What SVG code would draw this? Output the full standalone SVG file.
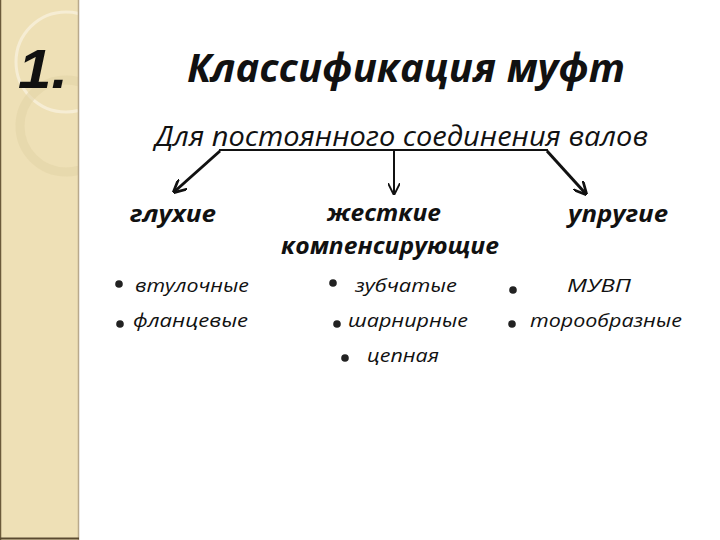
<svg xmlns="http://www.w3.org/2000/svg" width="720" height="540" viewBox="0 0 720 540">
<defs>
<style>
.t{font-family:"Open Sans","Noto Sans","Liberation Sans",sans-serif;font-style:italic;fill:#111}
.h{font-weight:bold;font-size:24px}
.b{font-size:19px}
.ln{stroke:#111;fill:none}
.dot{fill:#222}
</style>
<clipPath id="sc"><rect x="0" y="0" width="78" height="540"/></clipPath>
<marker id="ah" viewBox="0 0 10 10" refX="9" refY="5" markerWidth="4.5" markerHeight="4.5" orient="auto" markerUnits="strokeWidth">
<path d="M0,0 L10,5 L0,10" fill="none" stroke="#111" stroke-width="2"/>
</marker>
<marker id="ahm" viewBox="0 0 10 10" refX="9" refY="5" markerWidth="6" markerHeight="6" orient="auto" markerUnits="strokeWidth">
<path d="M0,0 L10,5 L0,10" fill="none" stroke="#111" stroke-width="1.6"/>
</marker>
</defs>
<rect width="720" height="540" fill="#fff"/>
<g id="strip">
<rect x="0" y="0" width="79" height="540" fill="#EEE0B6"/>
<g clip-path="url(#sc)">
<circle cx="66" cy="62" r="50" fill="none" stroke="#F6EDD4" stroke-width="3"/>
<circle cx="66" cy="126" r="46" fill="none" stroke="#E2D3A6" stroke-width="9" opacity="0.6"/>
</g>
<line x1="78.5" y1="0" x2="78.5" y2="540" stroke="#B8A98C" stroke-width="1.5"/>
<line x1="0.5" y1="0" x2="0.5" y2="540" stroke="#6B5A3A" stroke-width="1.5"/>
<line x1="0" y1="538.5" x2="79" y2="538.5" stroke="#5A4A30" stroke-width="2"/>
</g>
<g id="num"><text x="18" y="88" font-family="Liberation Sans,Arial,sans-serif" font-weight="bold" font-style="italic" font-size="56" fill="#111" textLength="50" lengthAdjust="spacingAndGlyphs">1.</text></g>
<g id="title"><text class="t" x="187" y="82" font-weight="bold" font-size="39" textLength="438" lengthAdjust="spacingAndGlyphs">Классификация муфт</text></g>
<g id="root">
<text class="t" x="155" y="146" font-size="27" textLength="493" lengthAdjust="spacingAndGlyphs">Для постоянного соединения валов</text>
<line class="ln" x1="219" y1="150" x2="548" y2="150" stroke-width="2"/>
</g>
<g id="connectors">
<line class="ln" x1="220" y1="151" x2="174" y2="192" stroke-width="3" marker-end="url(#ah)"/>
<line class="ln" x1="394" y1="151" x2="394" y2="194" stroke-width="2" marker-end="url(#ahm)"/>
<line class="ln" x1="547" y1="151" x2="586" y2="194" stroke-width="3" marker-end="url(#ah)"/>
</g>
<g id="n-gluhie">
<text class="t h" x="130" y="222" textLength="86" lengthAdjust="spacingAndGlyphs">глухие</text>
<circle class="dot" cx="119" cy="284" r="3.8"/>
<text class="t b" x="135" y="292" textLength="114" lengthAdjust="spacingAndGlyphs">втулочные</text>
<circle class="dot" cx="120" cy="324" r="3.8"/>
<text class="t b" x="133" y="327" textLength="115" lengthAdjust="spacingAndGlyphs">фланцевые</text>
</g>
<g id="n-zhestkie">
<text class="t h" x="327" y="221" textLength="114" lengthAdjust="spacingAndGlyphs">жесткие</text>
<text class="t h" x="281" y="254" textLength="218" lengthAdjust="spacingAndGlyphs">компенсирующие</text>
<circle class="dot" cx="333" cy="283" r="3.8"/>
<text class="t b" x="355" y="292" textLength="102" lengthAdjust="spacingAndGlyphs">зубчатые</text>
<circle class="dot" cx="337" cy="324" r="3.8"/>
<text class="t b" x="348" y="327" textLength="120" lengthAdjust="spacingAndGlyphs">шарнирные</text>
<circle class="dot" cx="345" cy="358" r="3.8"/>
<text class="t b" x="367" y="362" textLength="72" lengthAdjust="spacingAndGlyphs">цепная</text>
</g>
<g id="n-uprugie">
<text class="t h" x="568" y="222" textLength="100" lengthAdjust="spacingAndGlyphs">упругие</text>
<circle class="dot" cx="513" cy="290" r="3.8"/>
<text class="t b" x="567" y="292" textLength="64" lengthAdjust="spacingAndGlyphs">МУВП</text>
<circle class="dot" cx="512" cy="324" r="3.8"/>
<text class="t b" x="530" y="327" textLength="152" lengthAdjust="spacingAndGlyphs">торообразные</text>
</g>
</svg>
